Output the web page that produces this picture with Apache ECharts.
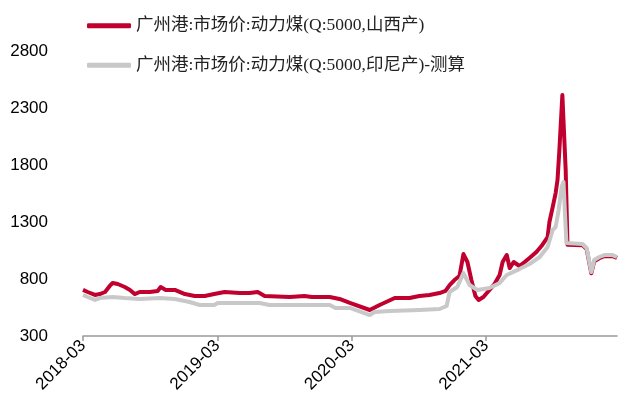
<!DOCTYPE html>
<html>
<head>
<meta charset="utf-8">
<script src="https://cdn.jsdelivr.net/npm/echarts@6/dist/echarts.min.js"></script>
<style>
html,body{margin:0;padding:0;background:#fff;}
#chart{width:627px;height:414px;}
</style>
</head>
<body>
<div id="chart"></div>
<script>
// ---- Data ----
var seriesNames = ['广州港:市场价:动力煤(Q:5000,山西产)', '广州港:市场价:动力煤(Q:5000,印尼产)-测算'];

var redDates = ['2018-03-01','2018-03-14','2018-04-03','2018-04-16','2018-04-30','2018-05-13','2018-05-21','2018-06-04','2018-06-23','2018-07-07','2018-07-20','2018-08-03','2018-08-31','2018-09-21','2018-09-29','2018-10-13','2018-11-07','2018-12-04','2018-12-31','2019-01-28','2019-02-21','2019-03-21','2019-05-01','2019-05-28','2019-06-19','2019-07-08','2019-09-15','2019-10-25','2019-11-14','2020-01-02','2020-01-29','2020-02-25','2020-04-19','2020-05-16','2020-06-26','2020-08-06','2020-09-02','2020-09-29','2020-10-27','2020-11-12','2020-11-23','2020-12-06','2020-12-20','2020-12-31','2021-01-11','2021-01-22','2021-02-02','2021-02-10','2021-02-22','2021-03-10','2021-03-24','2021-04-07','2021-04-15','2021-04-26','2021-05-04','2021-05-15','2021-05-31','2021-06-14','2021-06-27','2021-07-16','2021-07-30','2021-08-16','2021-08-21','2021-08-30','2021-09-07','2021-09-12','2021-09-17','2021-09-25','2021-10-04','2021-10-09','2021-11-19','2021-11-30','2021-12-13','2021-12-21','2022-01-04','2022-01-18','2022-02-09','2022-02-20'];
var redValues = [704,686,660,668,686,739,765,756,730,704,668,686,686,695,730,704,704,668,651,651,668,686,677,677,686,651,642,651,642,642,625,590,528,572,633,633,651,660,677,695,747,791,826,1019,949,791,651,616,642,704,756,835,949,1010,896,949,914,949,984,1037,1089,1168,1300,1431,1554,1668,1931,2414,1756,1100,1097,1062,850,955,982,1000,1000,984];

var grayDates = ['2018-03-01','2018-03-14','2018-04-03','2018-04-16','2018-05-21','2018-06-23','2018-08-03','2018-09-27','2018-11-07','2018-12-17','2019-01-14','2019-02-21','2019-03-02','2019-06-24','2019-07-21','2020-01-02','2020-01-18','2020-02-25','2020-04-19','2020-05-02','2020-06-12','2020-09-02','2020-10-27','2020-11-15','2020-11-23','2020-12-14','2020-12-31','2021-01-17','2021-02-07','2021-03-10','2021-04-07','2021-04-26','2021-05-31','2021-06-27','2021-07-25','2021-08-16','2021-08-30','2021-09-07','2021-09-15','2021-09-23','2021-09-28','2021-10-06','2021-11-19','2021-11-30','2021-12-13','2021-12-21','2022-01-04','2022-01-18','2022-02-09','2022-02-20'];
var grayValues = [660,642,616,633,642,633,625,633,625,598,572,572,590,590,572,572,546,546,484,511,519,528,537,563,686,730,852,747,704,721,765,835,887,931,993,1081,1230,1256,1405,1607,1651,1116,1107,1072,861,966,993,1010,1010,993];

var xTickLabels = ['2018-03','2019-03','2020-03','2021-03'];
var yMin = 300, yMax = 2800, yStep = 500;

// ---- helpers ----
function monthsFromStart(s) {
  var p = s.split('-');
  var y = +p[0], m = +p[1], d = +p[2];
  var dim = new Date(y, m, 0).getDate();
  return (y - 2018) * 12 + (m - 3) + (d - 1) / dim;
}
function pairs(dates, vals) {
  return dates.map(function (d, i) { return [monthsFromStart(d), vals[i]]; });
}
var tickPos = xTickLabels.map(function (s) { return monthsFromStart(s + '-01'); });
var lastX = Math.max(monthsFromStart(redDates[redDates.length - 1]), monthsFromStart(grayDates[grayDates.length - 1]));

var chart = echarts.init(document.getElementById('chart'), null, {renderer: 'canvas'});
var fontLatin = '"Liberation Sans", Arial, sans-serif';
var fontLegend = '"Liberation Serif", "Times New Roman", "Noto Sans CJK SC", serif';

chart.setOption({
  animation: false,
  backgroundColor: '#ffffff',
  grid: {left: 83, right: 10, top: 51, bottom: 78, containLabel: false},
  legend: {
    orient: 'vertical',
    left: 82, top: 12,
    itemWidth: 44, itemHeight: 5,
    itemGap: 22,
    icon: 'roundRect',
    textStyle: {fontFamily: fontLegend, fontSize: 17.5, color: '#222'},
    data: seriesNames
  },
  xAxis: {
    type: 'value',
    min: 0, max: lastX,
    interval: 12,
    splitLine: {show: false},
    axisLine: {show: true, lineStyle: {color: '#999', width: 1.5}},
    axisTick: {show: true, length: 5, lineStyle: {color: '#999', width: 1.5}, customValues: tickPos},
    axisLabel: {
      customValues: tickPos,
      rotate: 45,
      margin: 7,
      fontFamily: fontLatin,
      fontSize: 17,
      color: '#000',
      formatter: function (v) {
        var i = -1;
        for (var k = 0; k < tickPos.length; k++) { if (Math.abs(tickPos[k] - v) < 1e-6) i = k; }
        return i >= 0 ? xTickLabels[i] : '';
      }
    }
  },
  yAxis: {
    type: 'value',
    min: yMin, max: yMax, interval: yStep,
    splitLine: {show: false},
    axisLine: {show: false},
    axisTick: {show: false},
    axisLabel: {
      margin: 35, fontFamily: fontLatin, fontSize: 17, color: '#000',
      formatter: function (v) { return String(v); }
    }
  },
  series: [
    {
      name: seriesNames[0], type: 'line', showSymbol: false, symbol: 'none',
      data: pairs(redDates, redValues),
      lineStyle: {color: '#C0002F', width: 4, join: 'round'},
      itemStyle: {color: '#C0002F'}
    },
    {
      name: seriesNames[1], type: 'line', showSymbol: false, symbol: 'none',
      data: pairs(grayDates, grayValues),
      lineStyle: {color: '#C8C8C8', width: 4, join: 'round'},
      itemStyle: {color: '#C8C8C8'}
    }
  ]
});
</script>
</body>
</html>
